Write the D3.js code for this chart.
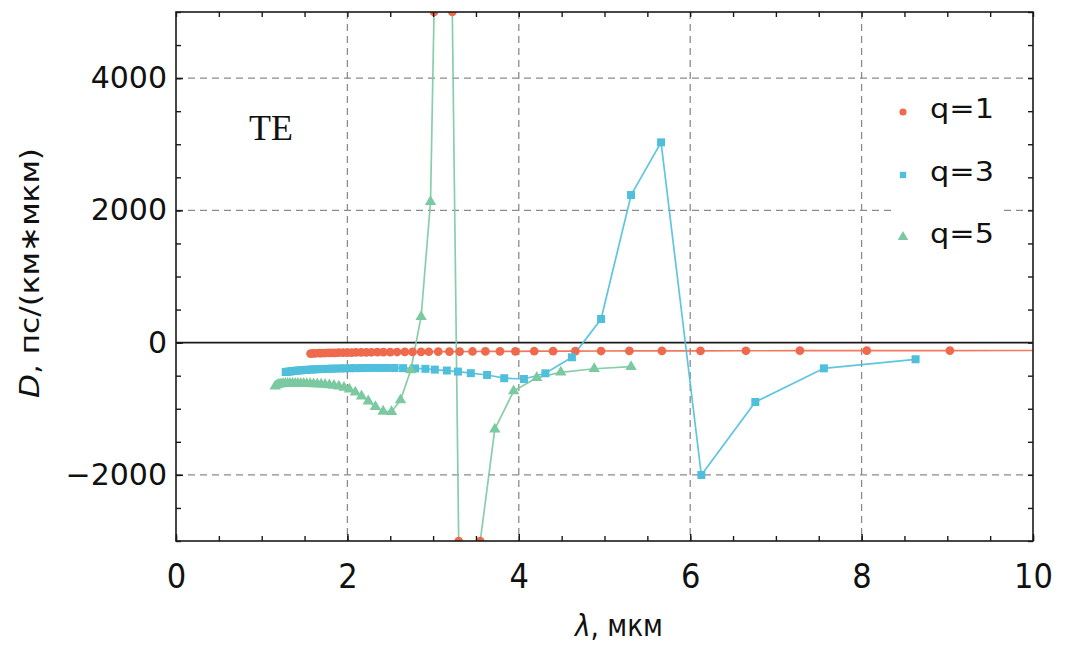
<!DOCTYPE html>
<html>
<head>
<meta charset="utf-8">
<script src="https://cdn.jsdelivr.net/npm/d3@7"></script>
<style>
  html, body { margin: 0; padding: 0; background: #fff; }
  svg { display: block; }
</style>
</head>
<body>
<script>
// Chromatic dispersion D(λ) of the TE modes, q = 1, 3, 5

// q = 1
const lambdaQ1 = [1.57, 1.60, 1.63, 1.67, 1.70, 1.74, 1.78, 1.82, 1.86, 1.90,
                  1.95, 2.00, 2.05, 2.10, 2.16, 2.22, 2.28, 2.35, 2.42, 2.50,
                  2.58, 2.67, 2.76, 2.86, 2.95, 3.06, 3.19, 3.31, 3.46, 3.61,
                  3.78, 3.96, 4.18, 4.40, 4.66, 4.96, 5.29, 5.67, 6.12, 6.65,
                  7.28, 8.06, 9.03, 10.35];
const dispQ1   = [-165, -163, -161, -160, -158, -157, -156, -155, -154, -153,
                  -152, -151, -150, -149, -148, -147, -146, -145, -144, -143,
                  -142, -141, -140, -139, -138, -137, -136, -135, -134, -133,
                  -132, -131, -130, -129, -128, -127, -126, -125, -124, -123,
                  -122, -121, -120, -119];

// q = 3
const lambdaQ3 = [1.28, 1.30, 1.33, 1.35, 1.38, 1.41, 1.44, 1.47, 1.50, 1.53,
                  1.57, 1.60, 1.64, 1.68, 1.72, 1.77, 1.82, 1.86, 1.92, 1.97,
                  2.03, 2.09, 2.16, 2.22, 2.30, 2.38, 2.46, 2.55, 2.65, 2.79,
                  2.91, 3.02, 3.16, 3.29, 3.44, 3.63, 3.83, 4.06, 4.31, 4.62,
                  4.96, 5.31, 5.66, 6.13, 6.76, 7.56, 8.63];
const dispQ3   = [-445, -440, -436, -432, -428, -424, -420, -417, -414, -411,
                  -408, -405, -403, -400, -398, -396, -394, -392, -390, -389,
                  -387, -386, -385, -384, -383, -383, -383, -384, -386, -390,
                  -396, -408, -422, -438, -462, -490, -538, -550, -464, -222,
                  357, 2232, 3029, -2002, -898, -389, -252];

// q = 5
const lambdaQ5 = [1.157, 1.179, 1.201, 1.225, 1.250, 1.276, 1.302, 1.330, 1.359, 1.390,
                  1.421, 1.455, 1.490, 1.526, 1.565, 1.605, 1.648, 1.693, 1.740, 1.790,
                  1.843, 1.900, 1.960, 2.023, 2.092, 2.165, 2.243, 2.327, 2.417, 2.515,
                  2.620, 2.740, 2.860, 2.970, 3.140, 3.320, 3.520, 3.720, 3.940, 4.210,
                  4.490, 4.880, 5.310];
const dispQ5   = [-660, -640, -630, -625, -622, -620, -619, -618, -618, -618,
                  -619, -620, -621, -622, -623, -625, -627, -630, -634, -640,
                  -648, -660, -678, -705, -750, -810, -885, -970, -1040, -1045,
                  -868, -414, 392, 2130, 14000, -5300, -3300, -1311, -732, -530,
                  -449, -395, -364];

const seriesLabels = ["q=1", "q=3", "q=5"];
const seriesColors = ["#ef6a4c", "#4fbfdb", "#7bc9a1"];
const seriesShapes = [d3.symbolCircle, d3.symbolSquare, d3.symbolTriangle];

const xTicks = [0, 2, 4, 6, 8, 10];
const xMinorTicks = d3.range(0, 10.01, 0.5);
const yTicks = [-2000, 0, 2000, 4000];
const yMinorTicks = d3.range(-3000, 5001, 500);
const xGrid = [2, 4, 6, 8];
const yGrid = [-2000, 2000, 4000];

const W = 1068, H = 647;
const plot = { left: 176, right: 1033, top: 12, bottom: 541 };

const x = d3.scaleLinear().domain([0, 10]).range([plot.left, plot.right]);
const y = d3.scaleLinear().domain([-3000, 5000]).range([plot.bottom, plot.top]);

const svg = d3.select("body").append("svg")
  .attr("width", W).attr("height", H)
  .attr("font-family", "'DejaVu Sans', sans-serif");

svg.append("defs").append("clipPath").attr("id", "plot-clip")
  .append("rect")
  .attr("x", plot.left).attr("y", plot.top)
  .attr("width", plot.right - plot.left).attr("height", plot.bottom - plot.top);

// dashed grid
const grid = svg.append("g")
  .attr("stroke", "#8c8c8c").attr("stroke-width", 1.3).attr("stroke-dasharray", "7,5");
grid.selectAll("line.gx").data(xGrid).join("line").attr("class", "gx")
  .attr("x1", d => x(d)).attr("x2", d => x(d))
  .attr("y1", plot.top).attr("y2", plot.bottom);
grid.selectAll("line.gy").data(yGrid).join("line").attr("class", "gy")
  .attr("y1", d => y(d)).attr("y2", d => y(d))
  .attr("x1", plot.left).attr("x2", plot.right);

// zero line
svg.append("line")
  .attr("x1", plot.left).attr("x2", plot.right)
  .attr("y1", y(0)).attr("y2", y(0))
  .attr("stroke", "#1a1a1a").attr("stroke-width", 1.8);

// legend background hides the grid behind it
svg.append("rect")
  .attr("x", 893).attr("y", 86).attr("width", 111).attr("height", 172)
  .attr("fill", "#fff");

// data
const series = [
  { lam: lambdaQ1, d: dispQ1 },
  { lam: lambdaQ3, d: dispQ3 },
  { lam: lambdaQ5, d: dispQ5 }
].map((s, i) => ({
  points: s.lam.map((l, j) => ({ l, d: s.d[j] })),
  color: seriesColors[i],
  shape: seriesShapes[i],
  label: seriesLabels[i]
}));

const dataLayer = svg.append("g").attr("clip-path", "url(#plot-clip)");
const line = d3.line().x(p => x(p.l)).y(p => y(p.d));
const symbolSize = [60, 64, 56];

series.forEach((s, i) => {
  dataLayer.append("path")
    .datum(s.points)
    .attr("fill", "none")
    .attr("stroke", s.color)
    .attr("stroke-opacity", 0.9)
    .attr("stroke-width", 1.7)
    .attr("d", line);
});

series.forEach((s, i) => {
  const inRange = s.points.filter(p => p.d >= y.domain()[0] && p.d <= y.domain()[1]);
  dataLayer.append("g").selectAll("path")
    .data(inRange)
    .join("path")
    .attr("transform", p => `translate(${x(p.l)},${y(p.d)})`)
    .attr("d", d3.symbol().type(s.shape).size(symbolSize[i]))
    .attr("fill", s.color);
});

// markers where a curve leaves or re-enters the frame
const [yLo, yHi] = y.domain();
const exits = [];
series.forEach(s => {
  for (let j = 1; j < s.points.length; j++) {
    const a = s.points[j - 1], b = s.points[j];
    [yLo, yHi].forEach(edge => {
      if ((a.d - edge) * (b.d - edge) < 0) {
        const t = (edge - a.d) / (b.d - a.d);
        exits.push({ l: a.l + t * (b.l - a.l), d: edge });
      }
    });
  }
});
dataLayer.append("g").selectAll("circle")
  .data(exits)
  .join("circle")
  .attr("cx", p => x(p.l)).attr("cy", p => y(p.d))
  .attr("r", 4.3)
  .attr("fill", seriesColors[0]);

// frame and ticks on all four sides
function styleAxis(g) {
  g.select(".domain").remove();
  g.selectAll(".tick line").attr("stroke", "#1a1a1a").attr("stroke-width", 1.4);
}
const noLabel = () => "";

svg.append("g").attr("transform", `translate(0,${plot.bottom})`)
  .call(d3.axisBottom(x).tickValues(xMinorTicks).tickSizeInner(-5).tickSizeOuter(0).tickFormat(noLabel))
  .call(styleAxis);
svg.append("g").attr("transform", `translate(0,${plot.top})`)
  .call(d3.axisTop(x).tickValues(xMinorTicks).tickSizeInner(-5).tickSizeOuter(0).tickFormat(noLabel))
  .call(styleAxis);
svg.append("g").attr("transform", `translate(${plot.left},0)`)
  .call(d3.axisLeft(y).tickValues(yMinorTicks).tickSizeInner(-5).tickSizeOuter(0).tickFormat(noLabel))
  .call(styleAxis);
svg.append("g").attr("transform", `translate(${plot.right},0)`)
  .call(d3.axisRight(y).tickValues(yMinorTicks).tickSizeInner(-5).tickSizeOuter(0).tickFormat(noLabel))
  .call(styleAxis);

const xAxis = svg.append("g").attr("transform", `translate(0,${plot.bottom})`)
  .call(d3.axisBottom(x).tickValues(xTicks).tickSizeInner(-7).tickSizeOuter(0)
    .tickPadding(23).tickFormat(d3.format("d")))
  .call(styleAxis);
xAxis.selectAll(".tick text")
  .attr("font-size", 34).attr("fill", "#111")
  .attr("font-family", "'DejaVu Sans', sans-serif")
  .attr("transform", "scale(0.9,1)");

const yAxis = svg.append("g").attr("transform", `translate(${plot.left},0)`)
  .call(d3.axisLeft(y).tickValues(yTicks).tickSizeInner(-7).tickSizeOuter(0)
    .tickPadding(9).tickFormat(d3.format("d")))
  .call(styleAxis);
yAxis.selectAll(".tick text")
  .attr("font-size", 30).attr("fill", "#111")
  .attr("font-family", "'DejaVu Sans', sans-serif");

svg.append("rect")
  .attr("x", plot.left).attr("y", plot.top)
  .attr("width", plot.right - plot.left).attr("height", plot.bottom - plot.top)
  .attr("fill", "none").attr("stroke", "#1a1a1a").attr("stroke-width", 1.6);

// axis titles
const xTitle = svg.append("text")
  .attr("transform", "translate(619,636) scale(0.85,1)")
  .attr("text-anchor", "middle")
  .attr("font-size", 31).attr("fill", "#111");
xTitle.append("tspan").attr("font-style", "italic").text("λ");
xTitle.append("tspan").text(", мкм");

const yTitle = svg.append("text")
  .attr("transform", "translate(39,273) rotate(-90)")
  .attr("text-anchor", "middle")
  .attr("font-size", 27).attr("fill", "#111")
  .attr("textLength", 250).attr("lengthAdjust", "spacingAndGlyphs");
yTitle.append("tspan").attr("font-style", "italic").text("D");
yTitle.append("tspan").text(", пс/(км∗мкм)");

// mode label
svg.append("text")
  .attr("x", 249).attr("y", 140)
  .attr("font-family", "'Liberation Serif', 'Times New Roman', serif")
  .attr("font-size", 36).attr("fill", "#111")
  .text("TE");

// legend
const legendRowY = [110, 173, 235];
const legendSym = [40, 40, 48];
const legend = svg.append("g");
series.forEach((s, i) => {
  legend.append("path")
    .attr("transform", `translate(903,${legendRowY[i] + 2})`)
    .attr("d", d3.symbol().type(s.shape).size(legendSym[i]))
    .attr("fill", s.color);
  legend.append("text")
    .attr("x", 930).attr("y", legendRowY[i] + 8)
    .attr("font-size", 26).attr("fill", "#111")
    .attr("textLength", 64).attr("lengthAdjust", "spacingAndGlyphs")
    .text(s.label);
});
</script>
</body>
</html>
